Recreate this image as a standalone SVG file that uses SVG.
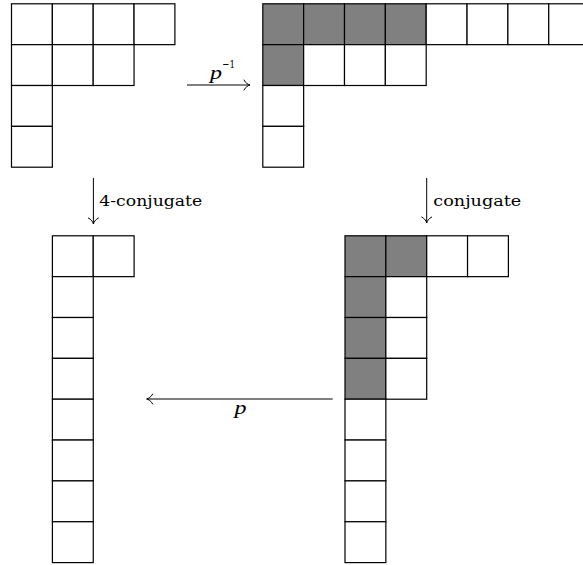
<svg xmlns="http://www.w3.org/2000/svg" width="583" height="565" viewBox="0 0 583 565">
<style>
.c{fill:#ffffff;stroke:#000000;stroke-width:1.2}
.g{fill:#808080;stroke:#000000;stroke-width:1.2}
.a{fill:none;stroke:#000000;stroke-width:1}
text{font-family:'DejaVu Serif','Liberation Serif',serif;fill:#000000}
.t{font-size:14px}
.i{font-family:'Liberation Serif','DejaVu Serif',serif;font-style:italic;font-size:18px}
.s{font-size:11.5px}
</style>
<defs>
<marker id="to" markerUnits="userSpaceOnUse" markerWidth="14" markerHeight="14" viewBox="-7 -7 14 14" refX="0" refY="0" orient="auto" overflow="visible">
<path d="M -6,-5 C -4.6,-2 -1.6,-0.4 0,0 C -1.6,0.4 -4.6,2 -6,5" fill="none" stroke="#000000" stroke-width="1" stroke-linecap="round"/>
</marker>
</defs>
<rect width="583" height="565" fill="#ffffff"/>
<g id="diagram-top-left">
<rect class="c" x="11.5" y="3.8" width="40.85" height="40.85"/>
<rect class="c" x="52.35" y="3.8" width="40.85" height="40.85"/>
<rect class="c" x="93.2" y="3.8" width="40.85" height="40.85"/>
<rect class="c" x="134.05" y="3.8" width="40.85" height="40.85"/>
<rect class="c" x="11.5" y="44.65" width="40.85" height="40.85"/>
<rect class="c" x="52.35" y="44.65" width="40.85" height="40.85"/>
<rect class="c" x="93.2" y="44.65" width="40.85" height="40.85"/>
<rect class="c" x="11.5" y="85.5" width="40.85" height="40.85"/>
<rect class="c" x="11.5" y="126.35" width="40.85" height="40.85"/>
</g>
<g id="diagram-top-right">
<rect class="g" x="262.8" y="3.8" width="40.85" height="40.85"/>
<rect class="g" x="303.65" y="3.8" width="40.85" height="40.85"/>
<rect class="g" x="344.5" y="3.8" width="40.85" height="40.85"/>
<rect class="g" x="385.35" y="3.8" width="40.85" height="40.85"/>
<rect class="c" x="426.2" y="3.8" width="40.85" height="40.85"/>
<rect class="c" x="467.05" y="3.8" width="40.85" height="40.85"/>
<rect class="c" x="507.9" y="3.8" width="40.85" height="40.85"/>
<rect class="c" x="548.75" y="3.8" width="40.85" height="40.85"/>
<rect class="g" x="262.8" y="44.65" width="40.85" height="40.85"/>
<rect class="c" x="303.65" y="44.65" width="40.85" height="40.85"/>
<rect class="c" x="344.5" y="44.65" width="40.85" height="40.85"/>
<rect class="c" x="385.35" y="44.65" width="40.85" height="40.85"/>
<rect class="c" x="262.8" y="85.5" width="40.85" height="40.85"/>
<rect class="c" x="262.8" y="126.35" width="40.85" height="40.85"/>
</g>
<g id="diagram-bottom-left">
<rect class="c" x="52.4" y="235.8" width="40.85" height="40.85"/>
<rect class="c" x="93.25" y="235.8" width="40.85" height="40.85"/>
<rect class="c" x="52.4" y="276.65" width="40.85" height="40.85"/>
<rect class="c" x="52.4" y="317.5" width="40.85" height="40.85"/>
<rect class="c" x="52.4" y="358.35" width="40.85" height="40.85"/>
<rect class="c" x="52.4" y="399.2" width="40.85" height="40.85"/>
<rect class="c" x="52.4" y="440.05" width="40.85" height="40.85"/>
<rect class="c" x="52.4" y="480.9" width="40.85" height="40.85"/>
<rect class="c" x="52.4" y="521.75" width="40.85" height="40.85"/>
</g>
<g id="diagram-bottom-right">
<rect class="g" x="345" y="235.8" width="40.85" height="40.85"/>
<rect class="g" x="385.85" y="235.8" width="40.85" height="40.85"/>
<rect class="c" x="426.7" y="235.8" width="40.85" height="40.85"/>
<rect class="c" x="467.55" y="235.8" width="40.85" height="40.85"/>
<rect class="g" x="345" y="276.65" width="40.85" height="40.85"/>
<rect class="c" x="385.85" y="276.65" width="40.85" height="40.85"/>
<rect class="g" x="345" y="317.5" width="40.85" height="40.85"/>
<rect class="c" x="385.85" y="317.5" width="40.85" height="40.85"/>
<rect class="g" x="345" y="358.35" width="40.85" height="40.85"/>
<rect class="c" x="385.85" y="358.35" width="40.85" height="40.85"/>
<rect class="c" x="345" y="399.2" width="40.85" height="40.85"/>
<rect class="c" x="345" y="440.05" width="40.85" height="40.85"/>
<rect class="c" x="345" y="480.9" width="40.85" height="40.85"/>
<rect class="c" x="345" y="521.75" width="40.85" height="40.85"/>
</g>
<g id="connectors">
<line class="a" x1="187" y1="85" x2="250" y2="85" marker-end="url(#to)"/>
<line class="a" x1="93.4" y1="178" x2="93.4" y2="224" marker-end="url(#to)"/>
<line class="a" x1="426.7" y1="178" x2="426.7" y2="223" marker-end="url(#to)"/>
<line class="a" x1="332.7" y1="399" x2="146.7" y2="399" marker-end="url(#to)"/>
<text class="i" x="210" y="78.5" textLength="12" lengthAdjust="spacingAndGlyphs">p</text>
<text class="s" x="222.3" y="68" textLength="12.8" lengthAdjust="spacingAndGlyphs">−1</text>
<text class="t" x="99.3" y="205.7" textLength="103" lengthAdjust="spacingAndGlyphs">4-conjugate</text>
<text class="t" x="433.3" y="205.7" textLength="88" lengthAdjust="spacingAndGlyphs">conjugate</text>
<text class="i" x="234.5" y="413.5" textLength="12" lengthAdjust="spacingAndGlyphs">p</text>
</g>
</svg>
